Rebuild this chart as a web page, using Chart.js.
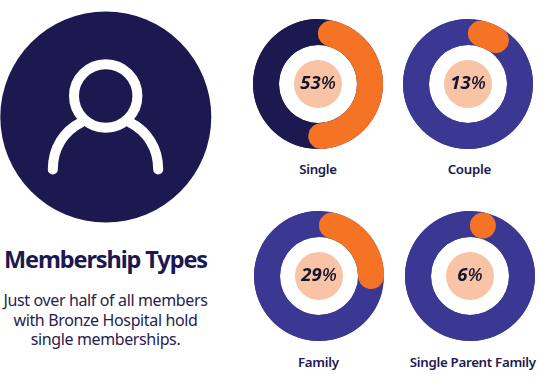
<!DOCTYPE html>
<html>
<head>
<meta charset="utf-8">
<script src="https://cdn.jsdelivr.net/npm/chart.js@4"></script>
<style>
  html, body { margin: 0; padding: 0; background: #fff; }
  #page { position: relative; width: 540px; height: 390px; overflow: hidden; font-family: "Noto Sans", sans-serif; color: #1c1850; }
  canvas { position: absolute; }
  .label { position: absolute; width: 150px; text-align: center; font-size: 13.3px; font-weight: 600; letter-spacing: -0.3px; line-height: 16px; }
  #icon { position: absolute; left: 0; top: 0; }
  #title { position: absolute; left: 0; top: 244px; width: 211px; text-align: center; font-size: 23.5px; font-weight: 700; letter-spacing: -1.1px; line-height: 30px; }
  #note { position: absolute; left: 0; top: 291px; width: 211px; text-align: center; font-size: 16px; letter-spacing: -0.37px; line-height: 19.5px; color: #26224f; }
</style>
</head>
<body>
<div id="page">
  <svg id="icon" width="212" height="224">
    <circle cx="105.8" cy="117" r="105.5" fill="#1c1850"/>
    <circle cx="105.7" cy="96" r="31.7" fill="none" stroke="#fff" stroke-width="10"/>
    <path d="M52.8 169.5C52.8 148 64 131 81 122.5M158.2 169.5C158.2 148 147 131 130 122.5" fill="none" stroke="#fff" stroke-width="10" stroke-linecap="round"/>
  </svg>
  <div id="title">Membership Types</div>
  <div id="note">Just over half of all members<br>with Bronze Hospital hold<br>single memberships.</div>
</div>
<script>
const categories = ['Single', 'Couple', 'Family', 'Single Parent Family'];
const shares = [53, 13, 29, 6];
const trackColors = ['#1c1850', '#3b3893', '#3b3893', '#3b3893'];
const centersX = [318, 468, 318.5, 469.5];
const centersY = [83.5, 83.5, 276, 276];
const labelsX = [318, 469.3, 318.3, 472.8];
const labelsY = [161, 161, 354, 354];

const ORANGE = '#f47324';
const PEACH = '#f9c4a6';
const OUTER = 65;
const INNER = 39;
const CAP = (OUTER - INNER) / 2;
const SIZE = 140;

// chart.js limits the corner radius on short slices, these get a dot instead
function isShort(share) {
    return (share / 100) * Math.PI * 2 * INNER / 2 < CAP;
}

// full ring behind the slices, the rounded ends of the orange slice sit on top of it
const ringPlugin = {
    id: 'ring',
    beforeDatasetsDraw(chart, args, opts) {
        const arc = chart.getDatasetMeta(0).data[0];
        const ctx = chart.ctx;
        ctx.save();
        ctx.fillStyle = opts.color;
        ctx.beginPath();
        ctx.arc(arc.x, arc.y, arc.outerRadius, 0, Math.PI * 2);
        ctx.arc(arc.x, arc.y, arc.innerRadius, 0, Math.PI * 2, true);
        ctx.fill();
        ctx.restore();
    }
};

const dotPlugin = {
    id: 'dot',
    afterDatasetsDraw(chart) {
        if (!isShort(chart.data.datasets[0].data[0])) {
            return;
        }
        const arc = chart.getDatasetMeta(0).data[0];
        const mid = (arc.outerRadius + arc.innerRadius) / 2;
        const angle = arc.startAngle + CAP / mid;
        const ctx = chart.ctx;
        ctx.save();
        ctx.fillStyle = ORANGE;
        ctx.beginPath();
        ctx.arc(arc.x + Math.cos(angle) * mid, arc.y + Math.sin(angle) * mid, CAP, 0, Math.PI * 2);
        ctx.fill();
        ctx.restore();
    }
};

const centerPlugin = {
    id: 'center',
    afterDraw(chart) {
        const arc = chart.getDatasetMeta(0).data[0];
        const ctx = chart.ctx;
        ctx.save();
        ctx.fillStyle = PEACH;
        ctx.beginPath();
        ctx.arc(arc.x, arc.y, 24, 0, Math.PI * 2);
        ctx.fill();
        // digits are heavier than the percent sign
        const digits = String(chart.data.datasets[0].data[0]);
        const digitFont = 'italic 700 18.5px "Noto Sans"';
        const signFont = 'italic 500 18.5px "Noto Sans"';
        ctx.font = digitFont;
        const digitWidth = ctx.measureText(digits).width;
        ctx.font = signFont;
        const signWidth = ctx.measureText('%').width;
        const left = arc.x - (digitWidth + signWidth) / 2;
        ctx.fillStyle = '#14132b';
        ctx.textAlign = 'left';
        ctx.textBaseline = 'middle';
        ctx.fillText('%', left + digitWidth, arc.y);
        ctx.font = digitFont;
        ctx.fillText(digits, left, arc.y);
        ctx.restore();
    }
};

const page = document.getElementById('page');

categories.forEach((name, i) => {
    const canvas = document.createElement('canvas');
    canvas.width = SIZE;
    canvas.height = SIZE;
    canvas.style.left = (centersX[i] - SIZE / 2) + 'px';
    canvas.style.top = (centersY[i] - SIZE / 2) + 'px';
    page.appendChild(canvas);

    new Chart(canvas, {
        type: 'doughnut',
        data: {
            labels: [name, 'Other'],
            datasets: [{
                data: [shares[i], 100 - shares[i]],
                backgroundColor: [isShort(shares[i]) ? trackColors[i] : ORANGE, trackColors[i]],
                borderWidth: 0,
                borderRadius: [CAP, 0]
            }]
        },
        options: {
            responsive: false,
            animation: false,
            radius: OUTER,
            cutout: (INNER / OUTER * 100) + '%',
            events: [],
            layout: { padding: 0 },
            plugins: {
                legend: { display: false },
                tooltip: { enabled: false },
                ring: { color: trackColors[i] }
            }
        },
        plugins: [ringPlugin, dotPlugin, centerPlugin]
    });

    const label = document.createElement('div');
    label.className = 'label';
    label.textContent = name;
    label.style.left = (labelsX[i] - 75) + 'px';
    label.style.top = labelsY[i] + 'px';
    page.appendChild(label);
});
</script>
</body>
</html>
